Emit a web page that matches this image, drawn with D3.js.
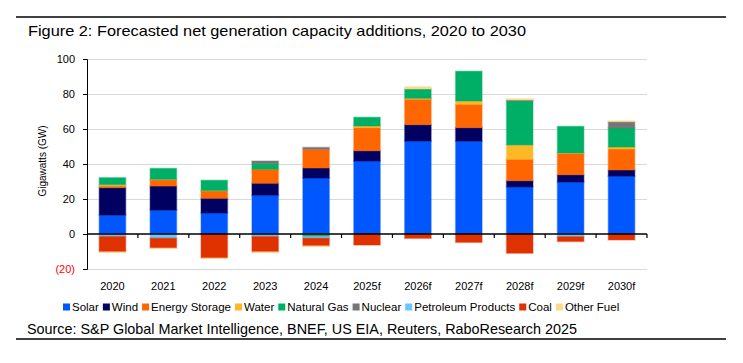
<!DOCTYPE html>
<html>
<head>
<meta charset="utf-8">
<script src="https://cdn.jsdelivr.net/npm/d3@7"></script>
<style>
  html, body { margin: 0; padding: 0; background: #fff; }
  svg { display: block; font-family: "Liberation Sans", Arial, sans-serif; }
</style>
</head>
<body>
<svg id="chart" width="743" height="363"></svg>
<script>
// ---- Data (GW) ----
const years = ["2020","2021","2022","2023","2024","2025f","2026f","2027f","2028f","2029f","2030f"];
const solar     = [10.8, 13.6, 12.0, 22.1, 32.0, 41.7, 53.1, 53.0, 26.9, 29.7, 33.0];
const wind      = [15.7, 13.8,  8.4,  6.9,  5.7,  5.9,  9.4,  7.8,  3.6,  4.2,  3.6];
const storage   = [ 0.9,  3.6,  4.2,  8.0, 10.7, 13.2, 14.5, 13.3, 12.2, 12.2, 12.0];
const water     = [ 0.8,  0.2,  0.2,  0.0,  0.0,  0.9,  0.5,  1.9,  8.2,  0.2,  1.1];
const gas       = [ 4.0,  6.3,  5.9,  3.4, -1.5,  5.0,  5.4, 17.0, 25.3, 15.2, 10.9];
const nuclear   = [ 0.0,  0.0,  0.0,  1.3,  1.1,  0.0,  0.0,  0.0,  0.4,  0.0,  3.6];
const petroleum = [-1.4, -2.4,  0.0, -1.4, -0.9,  0.0,  0.0,  0.0,  0.0, -1.5,  0.0];
const coal      = [-8.8, -5.6,-13.7, -8.8, -4.4, -6.3, -2.5, -4.8,-11.0, -2.8, -3.4];
const other     = [-0.3, -0.3, -0.2, -0.3, -0.3,  0.0,  1.3,  0.0,  0.7,  0.0,  0.4];

const seriesNames = ["Solar","Wind","Energy Storage","Water","Natural Gas","Nuclear","Petroleum Products","Coal","Other Fuel"];
const seriesValues = [solar, wind, storage, water, gas, nuclear, petroleum, coal, other];
const seriesColors = ["#0057FF","#000060","#FF6600","#FDB827","#00AF66","#767676","#66C8FF","#E03200","#FFD98A"];
const yTicks = [-20, 0, 20, 40, 60, 80, 100];

const title = "Figure 2: Forecasted net generation capacity additions, 2020 to 2030";
const source = "Source: S&P Global Market Intelligence, BNEF, US EIA, Reuters, RaboResearch 2025";

// ---- Build table ----
const table = years.map((y, i) => {
  const row = { year: y };
  seriesNames.forEach((s, k) => row[s] = seriesValues[k][i]);
  return row;
});

const svg = d3.select("#chart");
const plot = { left: 87, right: 647, top: 59, bottom: 269 };

const x = d3.scaleBand().domain(years).range([plot.left, plot.right]).padding(0);
const y = d3.scaleLinear().domain([-20, 100]).range([plot.bottom, plot.top]);

// frame lines
svg.append("line").attr("x1", 16).attr("x2", 726).attr("y1", 17).attr("y2", 17)
  .attr("stroke", "#000").attr("stroke-width", 1.5);
svg.append("line").attr("x1", 16).attr("x2", 726).attr("y1", 339).attr("y2", 339)
  .attr("stroke", "#000").attr("stroke-width", 1.5);

// title
svg.append("text").attr("x", 28).attr("y", 36)
  .attr("font-size", 14.5).attr("fill", "#000")
  .attr("textLength", 498).attr("lengthAdjust", "spacingAndGlyphs")
  .text(title);

// gridlines
svg.append("g").selectAll("line").data(yTicks.filter(t => t !== 0)).join("line")
  .attr("x1", plot.left).attr("x2", plot.right)
  .attr("y1", d => y(d) + 0.5).attr("y2", d => y(d) + 0.5)
  .attr("stroke", "#D9D9D9").attr("stroke-width", 1);

// y axis
const yAxis = svg.append("g").attr("transform", `translate(${plot.left},0)`)
  .call(d3.axisLeft(y).tickValues(yTicks).tickSize(4).tickPadding(8)
    .tickFormat(d => d < 0 ? `(${-d})` : d));
yAxis.select(".domain").attr("stroke", "#000");
yAxis.selectAll(".tick line").attr("stroke", "#000");
yAxis.selectAll(".tick text").attr("font-size", 11).attr("font-family", "Liberation Sans, Arial, sans-serif")
  .attr("fill", d => d < 0 ? "#FF0000" : "#000");

// y title
svg.append("text")
  .attr("transform", `translate(46,161) rotate(-90)`)
  .attr("text-anchor", "middle").attr("font-size", 10).attr("fill", "#000")
  .text("Gigawatts (GW)");

// stacked bars
const stack = d3.stack().keys(seriesNames).offset(d3.stackOffsetDiverging);
const layers = stack(table);
const barW = x.bandwidth() * 0.52;
const barOff = (x.bandwidth() - barW) / 2;

svg.append("g").selectAll("g").data(layers).join("g")
  .attr("fill", (d, i) => seriesColors[i])
  .attr("stroke", (d, i) => seriesColors[i])
  .attr("stroke-opacity", 0.35)
  .attr("stroke-width", 1.5)
  .selectAll("rect").data(d => d.filter(s => s[1] - s[0] !== 0)).join("rect")
  .attr("x", d => x(d.data.year) + barOff)
  .attr("width", barW)
  .attr("y", d => y(Math.max(d[0], d[1])))
  .attr("height", d => Math.abs(y(d[0]) - y(d[1])));

// x axis (at zero)
const xAxisG = svg.append("g").attr("transform", `translate(0,${y(0)})`);
xAxisG.append("line").attr("x1", plot.left).attr("x2", plot.right)
  .attr("stroke", "#000").attr("stroke-width", 1.3);
xAxisG.selectAll("line.tk").data(years).join("line").attr("class", "tk")
  .attr("x1", d => x(d) + x.bandwidth()).attr("x2", d => x(d) + x.bandwidth())
  .attr("y1", 0).attr("y2", 4).attr("stroke", "#000").attr("stroke-width", 1.2);

// x labels
svg.append("g").selectAll("text").data(years).join("text")
  .attr("x", d => x(d) + x.bandwidth() / 2).attr("y", 290)
  .attr("text-anchor", "middle").attr("font-size", 11).attr("fill", "#000")
  .text(d => d);

// legend
const legend = svg.append("g").attr("transform", "translate(63,307)");
let lx = 0;
seriesNames.forEach((name, i) => {
  const g = legend.append("g").attr("transform", `translate(${lx},0)`);
  g.append("rect").attr("x", 0).attr("y", -3.5).attr("width", 7).attr("height", 7)
    .attr("fill", seriesColors[i]);
  const t = g.append("text").attr("x", 9).attr("y", 4).attr("font-size", 11.5)
    .attr("fill", "#000").text(name);
  lx += 9 + t.node().getComputedTextLength() + 4;
});

// source
svg.append("text").attr("x", 27).attr("y", 334)
  .attr("font-size", 14.5).attr("fill", "#000")
  .attr("textLength", 550).attr("lengthAdjust", "spacingAndGlyphs")
  .text(source);
</script>
</body>
</html>
